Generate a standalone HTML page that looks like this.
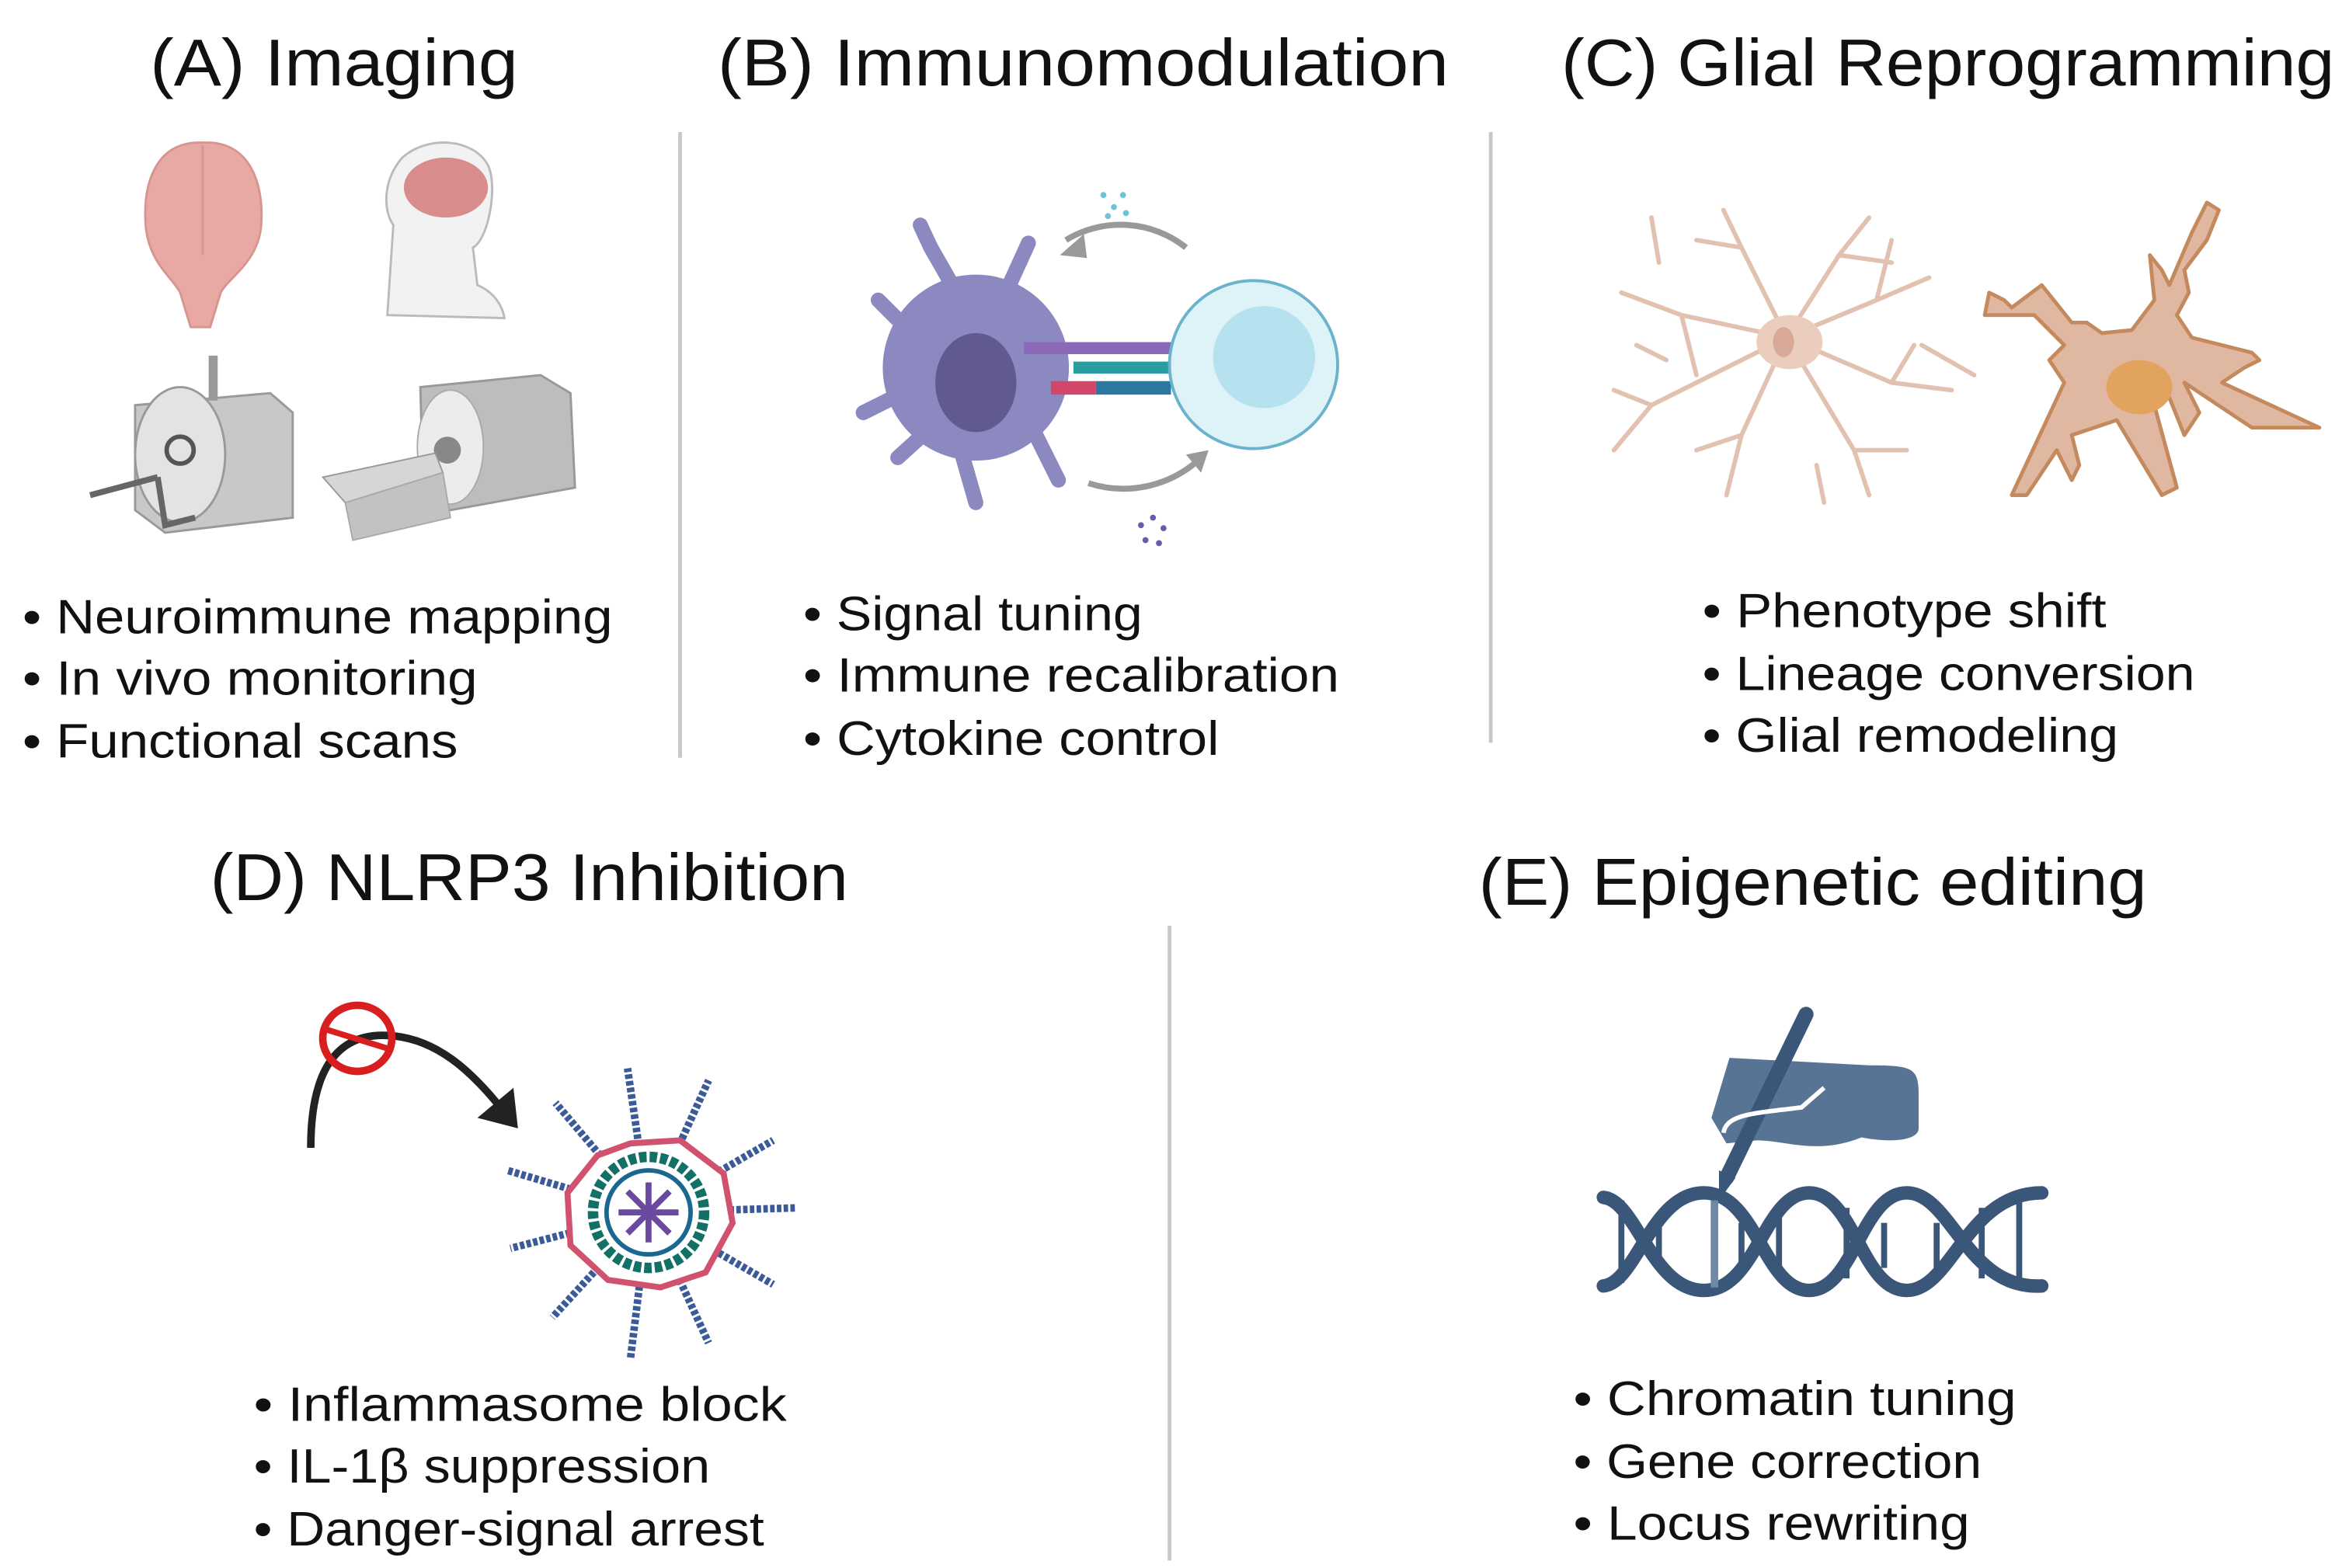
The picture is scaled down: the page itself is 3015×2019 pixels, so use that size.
<!DOCTYPE html>
<html><head><meta charset="utf-8"><style>
html,body{margin:0;padding:0;background:#fff;}
svg{display:block;}
text{font-family:"Liberation Sans",sans-serif;fill:#111;}
</style></head><body>
<svg width="3015" height="2019" viewBox="0 0 1560 1045" preserveAspectRatio="none" xmlns="http://www.w3.org/2000/svg">
<rect width="1560" height="1045" fill="#fff"/>
<!-- titles -->
<g font-size="44">
<text x="100" y="57" textLength="245" lengthAdjust="spacingAndGlyphs">(A) Imaging</text>
<text x="478" y="57" textLength="487" lengthAdjust="spacingAndGlyphs">(B) Immunomodulation</text>
<text x="1040" y="57" textLength="515" lengthAdjust="spacingAndGlyphs">(C) Glial Reprogramming</text>
<text x="140" y="600" textLength="425" lengthAdjust="spacingAndGlyphs">(D) NLRP3 Inhibition</text>
<text x="985" y="603" textLength="445" lengthAdjust="spacingAndGlyphs">(E) Epigenetic editing</text>
</g>
<!-- dividers -->
<g stroke="#c8c8c8" stroke-width="2.5">
<line x1="453" y1="88" x2="453" y2="505"/>
<line x1="993" y1="88" x2="993" y2="495"/>
<line x1="779" y1="617" x2="779" y2="1040"/>
</g>
<!-- bullets -->
<g font-size="32">
<text x="15" y="422" textLength="393" lengthAdjust="spacingAndGlyphs">• Neuroimmune mapping</text>
<text x="15" y="463" textLength="303" lengthAdjust="spacingAndGlyphs">• In vivo monitoring</text>
<text x="15" y="505" textLength="290" lengthAdjust="spacingAndGlyphs">• Functional scans</text>
<text x="535" y="420" textLength="226" lengthAdjust="spacingAndGlyphs">• Signal tuning</text>
<text x="535" y="461" textLength="357" lengthAdjust="spacingAndGlyphs">• Immune recalibration</text>
<text x="535" y="503" textLength="277" lengthAdjust="spacingAndGlyphs">• Cytokine control</text>
<text x="1134" y="418" textLength="269" lengthAdjust="spacingAndGlyphs">• Phenotype shift</text>
<text x="1134" y="460" textLength="328" lengthAdjust="spacingAndGlyphs">• Lineage conversion</text>
<text x="1134" y="501" textLength="277" lengthAdjust="spacingAndGlyphs">• Glial remodeling</text>
<text x="169" y="947" textLength="355" lengthAdjust="spacingAndGlyphs">• Inflammasome block</text>
<text x="169" y="988" textLength="304" lengthAdjust="spacingAndGlyphs">• IL-1β suppression</text>
<text x="169" y="1030" textLength="340" lengthAdjust="spacingAndGlyphs">• Danger-signal arrest</text>
<text x="1048" y="943" textLength="295" lengthAdjust="spacingAndGlyphs">• Chromatin tuning</text>
<text x="1048" y="985" textLength="272" lengthAdjust="spacingAndGlyphs">• Gene correction</text>
<text x="1048" y="1026" textLength="264" lengthAdjust="spacingAndGlyphs">• Locus rewriting</text>
</g>
<!-- A icons -->
<g>
<path d="M133,95 C105,95 95,120 97,150 C99,175 115,185 120,195 L127,218 L140,218 L147,195 C152,185 172,175 174,150 C176,120 165,95 138,95 Z" fill="#e8a8a4" stroke="#d89590" stroke-width="1.5"/>
<line x1="135" y1="97" x2="135" y2="170" stroke="#d89590" stroke-width="1.5"/>
<path d="M258,210 L262,150 C255,140 255,120 268,105 C285,90 315,92 325,110 C332,125 325,160 315,165 L318,190 C330,195 335,205 336,212 Z" fill="#f2f2f2" stroke="#bbb" stroke-width="1.5"/>
<ellipse cx="297" cy="125" rx="28" ry="20" fill="#d88c8c"/>
<!-- MRI small -->
<path d="M90,270 L180,262 L195,275 L195,345 L110,355 L90,340 Z" fill="#c8c8ca" stroke="#999" stroke-width="1.5"/>
<ellipse cx="120" cy="303" rx="30" ry="45" fill="#e3e3e5" stroke="#999" stroke-width="1.5"/>
<circle cx="120" cy="300" r="9" fill="none" stroke="#555" stroke-width="3"/>
<path d="M60,330 L105,318 M105,318 L110,350 L130,345" stroke="#666" stroke-width="4" fill="none"/>
<rect x="139" y="237" width="6" height="30" fill="#999"/>
<!-- MRI big -->
<path d="M280,258 L360,250 L380,262 L383,325 L300,340 L282,330 Z" fill="#bdbdc0" stroke="#999" stroke-width="1.5"/>
<ellipse cx="300" cy="298" rx="22" ry="38" fill="#ececee" stroke="#aaa"/>
<circle cx="298" cy="300" r="9" fill="#888"/>
<path d="M215,318 L290,302 L295,315 L230,335 Z" fill="#d6d6d8" stroke="#999"/>
<path d="M230,335 L295,315 L300,345 L235,360 Z" fill="#c2c2c4" stroke="#aaa"/>
</g>
<!-- B icons -->
<g>
<path d="M710,160 A70,70 0 0 1 790,165" stroke="#999" stroke-width="4" fill="none"/>
<polygon points="706,170 722,156 724,172" fill="#999"/>
<path d="M725,322 A75,75 0 0 0 800,305" stroke="#999" stroke-width="4" fill="none"/>
<polygon points="805,300 790,303 800,315" fill="#999"/>
<g fill="#6fc3d8"><circle cx="735" cy="130" r="2"/><circle cx="742" cy="138" r="2"/><circle cx="748" cy="130" r="2"/><circle cx="738" cy="144" r="2"/><circle cx="750" cy="142" r="2"/></g>
<g fill="#6a5aa8"><circle cx="760" cy="350" r="2"/><circle cx="768" cy="345" r="2"/><circle cx="775" cy="352" r="2"/><circle cx="763" cy="360" r="2"/><circle cx="772" cy="362" r="2"/></g>
<g stroke="#8c88c0" stroke-width="10" stroke-linecap="round" fill="none">
<path d="M640,200 L620,165 L613,150"/><path d="M670,195 L685,162"/><path d="M610,225 L585,200"/><path d="M595,265 L575,275"/>
<path d="M640,300 L650,335"/><path d="M690,290 L705,320"/><path d="M620,285 L598,305"/>
</g>
<circle cx="650" cy="245" r="62" fill="#8c88c0"/>
<ellipse cx="650" cy="255" rx="27" ry="33" fill="#605a8e"/>
<rect x="682" y="228" width="100" height="8" fill="#8a6ab8"/>
<rect x="715" y="241" width="70" height="8" fill="#2a9da0"/>
<rect x="700" y="254" width="30" height="9" fill="#d0476a"/>
<rect x="730" y="254" width="50" height="9" fill="#2b78a0"/>
<circle cx="835" cy="243" r="56" fill="#def3f8" stroke="#6bb3cc" stroke-width="2"/>
<circle cx="842" cy="238" r="34" fill="#b6e1ee"/>
</g>
<!-- C icons -->
<g stroke="#e2c1b0" stroke-width="3" fill="none" stroke-linecap="round">
<path d="M1190,225 L1160,165 L1148,140"/><path d="M1190,225 L1225,170 L1245,145"/>
<path d="M1190,225 L1120,210 L1080,195"/><path d="M1190,225 L1100,270 L1075,300"/>
<path d="M1190,225 L1160,290 L1150,330"/><path d="M1190,225 L1235,300 L1245,330"/>
<path d="M1190,225 L1260,255 L1300,260"/><path d="M1190,225 L1250,200 L1285,185"/>
<path d="M1160,165 L1130,160"/><path d="M1225,170 L1260,175"/><path d="M1120,210 L1130,250"/>
<path d="M1100,270 L1075,260"/><path d="M1160,290 L1130,300"/><path d="M1235,300 L1270,300"/>
<path d="M1260,255 L1275,230"/><path d="M1250,200 L1260,160"/><path d="M1110,240 L1090,230"/>
<path d="M1280,230 L1315,250"/><path d="M1105,175 L1100,145"/><path d="M1210,310 L1215,335"/>
</g>
<ellipse cx="1192" cy="228" rx="22" ry="18" fill="#ebcdbd"/>
<ellipse cx="1188" cy="228" rx="7" ry="10" fill="#d8a898"/>
<path d="M1375,255 L1340,330 L1350,330 L1370,300 L1380,320 L1385,310 L1380,290 L1410,280 L1440,330 L1450,325 L1435,270 L1445,265 L1455,290 L1465,275 L1455,255 L1500,285 L1545,285 L1480,255 L1495,245 L1505,240 L1500,235 L1460,225 L1450,210 L1458,195 L1455,180 L1470,160 L1478,140 L1470,135 L1460,155 L1445,190 L1440,180 L1432,170 L1435,200 L1420,220 L1400,222 L1390,215 L1380,215 L1360,190 L1340,205 L1335,200 L1325,195 L1322,210 L1355,210 L1375,230 L1365,240 Z" fill="#e0b7a0" stroke="#c48a5e" stroke-width="2.5" stroke-linejoin="round"/>
<ellipse cx="1425" cy="258" rx="22" ry="18" fill="#e1a35e"/>
<!-- D icons -->
<path d="M207,765 C207,720 220,690 255,690 C290,690 315,715 335,740" stroke="#222" stroke-width="5" fill="none"/>
<polygon points="318,745 345,752 342,725" fill="#222"/>
<ellipse cx="238" cy="692" rx="23" ry="22" fill="none" stroke="#d81e1e" stroke-width="5"/>
<line x1="217" y1="686" x2="259" y2="699" stroke="#d81e1e" stroke-width="4"/>
<g stroke="#3a5a9a" stroke-width="5" stroke-dasharray="3 1.5">
<line x1="432" y1="808" x2="418" y2="712"/><line x1="432" y1="808" x2="472" y2="720"/>
<line x1="432" y1="808" x2="515" y2="760"/><line x1="432" y1="808" x2="530" y2="805"/>
<line x1="432" y1="808" x2="515" y2="856"/><line x1="432" y1="808" x2="472" y2="895"/>
<line x1="432" y1="808" x2="420" y2="905"/><line x1="432" y1="808" x2="368" y2="878"/>
<line x1="432" y1="808" x2="340" y2="832"/><line x1="432" y1="808" x2="338" y2="780"/>
<line x1="432" y1="808" x2="370" y2="735"/>
</g>
<polygon points="420,762 453,760 482,782 488,815 470,848 440,858 405,853 380,830 378,795 398,770" fill="#fff" stroke="#d0526e" stroke-width="4"/>
<circle cx="432" cy="808" r="37" fill="none" stroke="#137066" stroke-width="7" stroke-dasharray="5 2"/>
<circle cx="432" cy="808" r="28" fill="#fff" stroke="#1a6890" stroke-width="3"/>
<g stroke="#6a4a9e" stroke-width="4"><line x1="432" y1="788" x2="432" y2="828"/><line x1="412" y1="808" x2="452" y2="808"/><line x1="418" y1="794" x2="446" y2="822"/><line x1="446" y1="794" x2="418" y2="822"/></g>
<!-- E icons -->
<g fill="#587495">
<path d="M1140,745 L1152,705 L1245,710 C1275,710 1278,712 1278,730 L1278,752 C1278,760 1260,762 1240,758 C1210,770 1190,760 1170,760 L1150,762 Z"/>
</g>
<path d="M1203,676 L1150,785" stroke="#3a5679" stroke-width="10" stroke-linecap="round"/>
<polygon points="1145,780 1156,785 1145,800" fill="#3a5679"/>
<path d="M1148,755 C1150,742 1170,742 1200,738 L1215,725" stroke="#fff" stroke-width="3" fill="none"/>
<g stroke="#3a5679" stroke-width="9" fill="none" stroke-linecap="round">
<path d="M1068,798 C1090,800 1100,860 1135,860 C1170,860 1175,795 1205,795 C1235,795 1240,860 1270,860 C1300,860 1310,795 1360,795"/>
<path d="M1068,857 C1090,855 1100,795 1135,795 C1170,795 1175,860 1205,860 C1235,860 1240,795 1270,795 C1300,795 1310,860 1360,857"/>
</g>
<g stroke="#3a5679" stroke-width="4">
<line x1="1080" y1="800" x2="1080" y2="855"/><line x1="1105" y1="815" x2="1105" y2="845"/>
<line x1="1160" y1="815" x2="1160" y2="845"/><line x1="1185" y1="805" x2="1185" y2="852"/>
<line x1="1230" y1="805" x2="1230" y2="852"/><line x1="1255" y1="815" x2="1255" y2="845"/>
<line x1="1290" y1="815" x2="1290" y2="845"/><line x1="1320" y1="805" x2="1320" y2="852"/>
<line x1="1345" y1="800" x2="1345" y2="855"/>
</g>
<line x1="1142" y1="800" x2="1142" y2="858" stroke="#6f88a6" stroke-width="5"/>
</svg>
</body></html>
